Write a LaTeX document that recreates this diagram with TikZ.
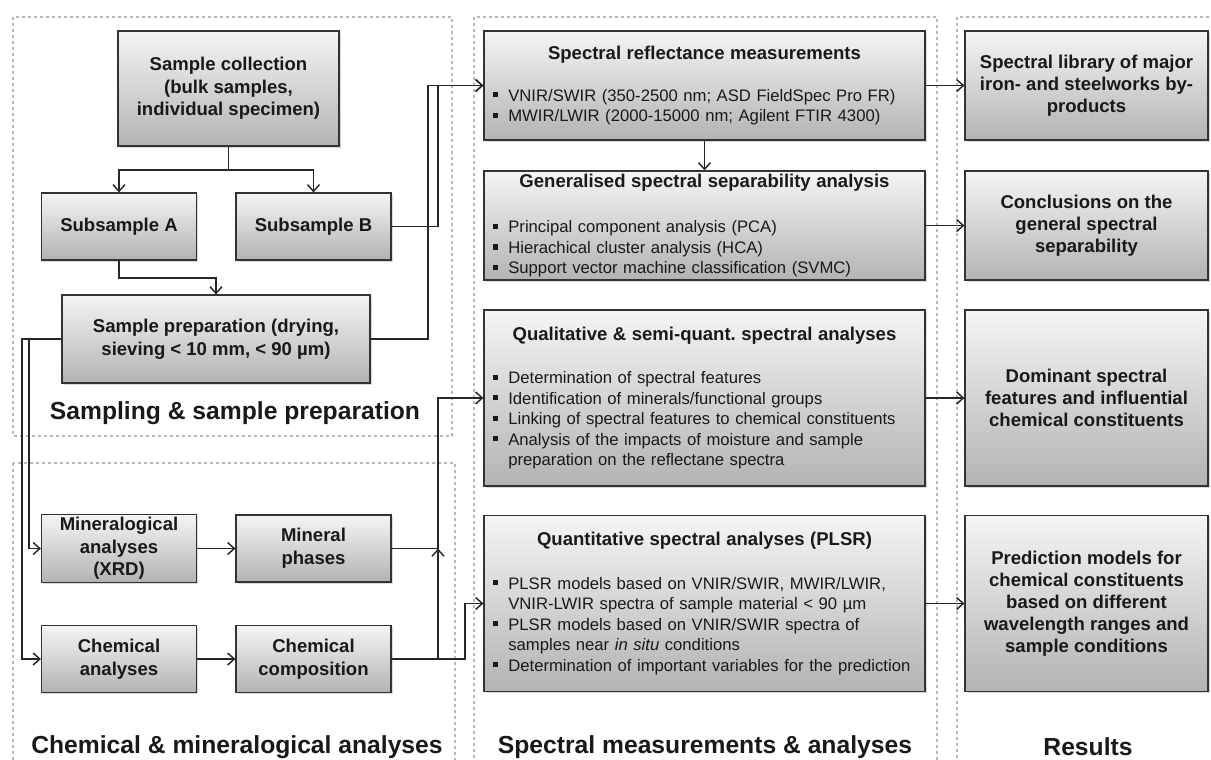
\documentclass[tikz,border=0pt]{standalone}
\usepackage{fontspec}
\setmainfont{Liberation Sans}
\usetikzlibrary{arrows.meta,shadows}
\frenchspacing

% 箇条書きの記号
\newcommand\itm{\makebox[0.95em][l]{\rule[0.22em]{0.32em}{0.32em}}}
\newcommand\cnt{\hspace*{0.95em}}

\begin{document}
\begin{tikzpicture}[x=0.75pt, y=-0.75pt, >={Straight Barb[length=5pt,width=9pt]},
    box/.style={draw=black!80, line width=0.9pt, top color=black!4, bottom color=black!30,
        drop shadow={shadow xshift=1.2pt, shadow yshift=-1.2pt, opacity=0.3},
        align=center, inner sep=2pt, text=black!90,
        font=\fontsize{13.9}{17}\selectfont\bfseries},
    smallbox/.style={box, minimum width=116.25pt, minimum height=50.25pt},
    midbox/.style={box, minimum width=330.75pt, text width=318pt, inner xsep=6.3pt,
        align=left, font=\fontsize{12.5}{15.4}\selectfont},
    resbox/.style={box, minimum width=182.25pt, font=\fontsize{13.9}{16.5}\selectfont\bfseries},
    panel/.style={draw=black!28, line width=2.2pt, dash pattern=on 2.2pt off 2.3pt},
    title/.style={font=\fontsize{18.5}{22}\selectfont\bfseries, text=black!90},
    link/.style={draw=black!85, line width=1.1pt}]

\useasboundingbox (0,0) rectangle (1211,760);

% パラメータ
\def\hs{81.75pt}   % 上段の高さ
\def\hl{132pt}     % 下段の高さ

%========================
% 点線の枠
%========================
\draw[panel] (13,17) rectangle (452,436);
\draw[panel] (13,463) rectangle (455,775);
\draw[panel] (474,17) rectangle (937,775);
\draw[panel] (957,17) rectangle (1225,775);

%========================
% 試料採取と前処理
%========================
\node[box, minimum width=165.75pt, minimum height=86.25pt] (coll) at (228.5,88.5)
    {Sample collection\\(bulk samples,\\individual specimen)};
\node[smallbox] (subA) at (119,226.5) {Subsample A};
\node[smallbox] (subB) at (313.5,226.5) {Subsample B};
\node[box, minimum width=231pt, minimum height=66pt] (prep) at (216,339)
    {Sample preparation (drying,\\sieving < 10 mm, < 90 µm)};
\node[title] (tSamp) at (235,413) {Sampling \& sample preparation};

%========================
% 化学・鉱物分析
%========================
\node[smallbox] (miner) at (119,548.5) {Mineralogical\\analyses\\(XRD)};
\node[smallbox] (phases) at (313.5,548.5) {Mineral\\phases};
\node[smallbox] (chem) at (119,659) {Chemical\\analyses};
\node[smallbox] (compo) at (313.5,659) {Chemical\\composition};
\node[title] (tChem) at (237,747) {Chemical \& mineralogical analyses};

%========================
% 分光測定と解析
%========================
\node[midbox, minimum height=\hs] (refl) at (704.5,85.5)
    {\makebox[\linewidth]{\bfseries\fontsize{13.9}{17}\selectfont Spectral reflectance measurements}\\[16pt]
     \itm VNIR/SWIR (350-2500 nm; ASD FieldSpec Pro FR)\\
     \itm MWIR/LWIR (2000-15000 nm; Agilent FTIR 4300)};
\node[midbox, minimum height=\hs] (sep) at (704.5,225.5)
    {\makebox[\linewidth]{\bfseries\fontsize{13.9}{17}\selectfont Generalised spectral separability analysis}\\[19pt]
     \itm Principal component analysis (PCA)\\
     \itm Hierachical cluster analysis (HCA)\\
     \itm Support vector machine classification (SVMC)};
\node[midbox, minimum height=\hl] (qual) at (704.5,398)
    {\makebox[\linewidth]{\bfseries\fontsize{13.9}{17}\selectfont Qualitative \& semi-quant. spectral analyses}\\[17pt]
     \itm Determination of spectral features\\
     \itm Identification of minerals/functional groups\\
     \itm Linking of spectral features to chemical constituents\\
     \itm Analysis of the impacts of moisture and sample\\
     \cnt preparation on the reflectane spectra};
\node[midbox, minimum height=\hl] (quant) at (704.5,603.5)
    {\makebox[\linewidth]{\bfseries\fontsize{13.9}{17}\selectfont Quantitative spectral analyses (PLSR)}\\[17pt]
     \itm PLSR models based on VNIR/SWIR, MWIR/LWIR,\\
     \cnt VNIR-LWIR spectra of sample material < 90 µm\\
     \itm PLSR models based on VNIR/SWIR spectra of\\
     \cnt samples near \textit{in situ} conditions\\
     \itm \mbox{Determination of important variables for the prediction}};
\node[title] (tSpec) at (705,747) {Spectral measurements \& analyses};

%========================
% 結果
%========================
\node[resbox, minimum height=\hs] (lib) at (1086.5,85.5)
    {Spectral library of major\\iron- and steelworks by-\\products};
\node[resbox, minimum height=\hs] (concl) at (1086.5,225.5)
    {Conclusions on the\\general spectral\\separability};
\node[resbox, minimum height=\hl] (domin) at (1086.5,398)
    {Dominant spectral\\features and influential\\chemical constituents};
\node[resbox, minimum height=\hl] (pred) at (1086.5,603.5)
    {Prediction models for\\chemical constituents\\based on different\\wavelength ranges and\\sample conditions};
\node[title] (tRes) at (1088,747) {Results};

%========================
% 接続線
%========================
\coordinate (split) at (228.5,170);
\coordinate (ajoin) at (119,278);
\coordinate (busB) at (438,85.5);
\coordinate (busP) at (428,85.5);
\coordinate (busM) at (29,339);
\coordinate (busC) at (22,339);
\coordinate (busQ) at (438,548.5);
\coordinate (busR) at (465,659);

\draw[link] (coll.south) -- (split);
\draw[link, ->] (split) -| (subA.north);
\draw[link, ->] (split) -| (subB.north);
\draw[link, ->] (subA.south) -- (ajoin) -| (prep.north);
\draw[link, ->] (subB.east) -| (busB) -- (refl.west);
\draw[link, ->] (prep.east) -| (busP) -- (refl.west);
\draw[link, ->] (prep.west) -- (busM) |- (miner.west);
\draw[link, ->] (prep.west) -- (busC) |- (chem.west);
\draw[link, ->] (miner) -- (phases);
\draw[link, ->] (chem) -- (compo);
\draw[link, ->] (compo.east) -| (busQ);
\draw[link, ->] (phases.east) -- (busQ) |- (qual.west);
\draw[link, ->] (compo.east) -- (busR) |- (quant.west);

\draw[link, ->] (refl) -- (sep);
\draw[link, ->] (refl) -- (lib);
\draw[link, ->] (sep) -- (concl);
\draw[link, ->] (qual) -- (domin);
\draw[link, ->] (quant) -- (pred);

\end{tikzpicture}
\end{document}
